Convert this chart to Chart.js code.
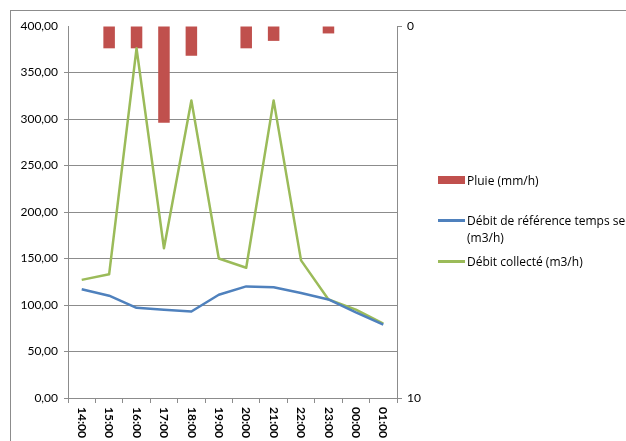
<!DOCTYPE html>
<html>
<head>
<meta charset="utf-8">
<script src="https://cdn.jsdelivr.net/npm/chart.js@4"></script>
<style>
  body { margin: 0; background: #fff; overflow: hidden; }
  #wrap { position: relative; width: 626px; height: 441px; overflow: hidden; }
  #frame { position: absolute; left: 10px; top: 10px; width: 700px; height: 500px; border: 1px solid #8c8c8c; }
  #chart { position: absolute; left: 0; top: 0; }
  #legend { position: absolute; left: 438px; top: 172px; font: 12px "Open Sans", sans-serif; color: #000; }
  .item { position: absolute; left: 0; white-space: nowrap; }
  .sw { position: absolute; left: 0; width: 27px; }
  .lbl { position: absolute; left: 29px; line-height: 17px; }
</style>
</head>
<body>
<div id="wrap">
  <div id="frame"></div>
  <canvas id="chart" width="626" height="441"></canvas>
  <div id="legend">
    <div class="item" style="top:0"><div class="sw" style="top:4px;height:8px;background:#C0504D"></div><div class="lbl" style="top:0px">Pluie (mm/h)</div></div>
    <div class="item" style="top:40px"><div class="sw" style="top:7px;height:3px;background:#4F81BD"></div><div class="lbl" style="top:0px">Débit de référence temps sec<br>(m3/h)</div></div>
    <div class="item" style="top:81px"><div class="sw" style="top:7px;height:3px;background:#9BBB59"></div><div class="lbl" style="top:0px">Débit collecté (m3/h)</div></div>
  </div>
</div>
<script>
const hours = ['14:00', '15:00', '16:00', '17:00', '18:00', '19:00', '20:00', '21:00', '22:00', '23:00', '00:00', '01:00'];
const pluie = [0, 0.6, 0.6, 2.6, 0.8, 0, 0.6, 0.4, 0, 0.2, 0, 0];
const debitRef = [117, 110, 97, 95, 93, 111, 120, 119, 113, 106, 92, 79];
const debitCollecte = [127, 133, 376, 161, 320, 150, 140, 320, 148, 106, 95, 80];

const gray = '#8c8c8c';

// x labels drawn rotated clockwise, like the original
const xLabels = {
    id: 'xLabels',
    afterDraw(chart) {
        const c = chart.ctx;
        const scale = chart.scales.x;
        c.save();
        c.fillStyle = '#000';
        c.font = 'bold 12px Lato, sans-serif';
        c.textAlign = 'left';
        c.textBaseline = 'middle';
        hours.forEach((h, i) => {
            const x = scale.getPixelForTick(i);
            c.save();
            c.translate(x, scale.top + 9);
            c.rotate(Math.PI / 2);
            c.fillText(h, 0, 0);
            c.restore();
        });
        c.restore();
    }
};

const fmt = v => v.toFixed(2).replace('.', ',');

new Chart(document.getElementById('chart'), {
    data: {
        labels: hours,
        datasets: [
            {
                type: 'line',
                label: 'Débit de référence temps sec (m3/h)',
                data: debitRef,
                borderColor: '#4F81BD',
                borderWidth: 2.5,
                borderJoinStyle: 'round',
                pointRadius: 0,
                tension: 0,
                yAxisID: 'y',
                order: 1,
            },
            {
                type: 'line',
                label: 'Débit collecté (m3/h)',
                data: debitCollecte,
                borderColor: '#9BBB59',
                borderWidth: 2.5,
                borderJoinStyle: 'round',
                pointRadius: 0,
                tension: 0,
                yAxisID: 'y',
                order: 1,
            },
            {
                type: 'bar',
                label: 'Pluie (mm/h)',
                data: pluie,
                backgroundColor: '#C0504D',
                categoryPercentage: 0.42,
                barPercentage: 1,
                yAxisID: 'y1',
                order: 2,
            },
        ],
    },
    options: {
        responsive: false,
        animation: false,
        layout: { padding: { top: 26, left: 0, right: 0, bottom: 0 } },
        plugins: { legend: { display: false }, tooltip: { enabled: false } },
        scales: {
            x: {
                offset: true,
                grid: { offset: true, drawOnChartArea: false, drawTicks: true, tickLength: 5, color: gray },
                border: { color: gray },
                ticks: { display: false },
                afterFit: s => { s.height = 43; },
            },
            y: {
                position: 'left',
                min: 0,
                max: 400,
                ticks: {
                    stepSize: 50,
                    padding: 6,
                    color: '#000',
                    font: { family: 'Lato, sans-serif', size: 12 },
                    callback: v => fmt(v),
                },
                grid: {
                    color: ctx => (ctx.tick && ctx.tick.value === 400 ? 'rgba(0,0,0,0)' : gray),
                    tickLength: 4,
                },
                border: { color: gray },
                afterFit: s => { s.width = 68; },
            },
            y1: {
                position: 'right',
                reverse: true,
                min: 0,
                max: 10,
                ticks: {
                    stepSize: 10,
                    padding: 5,
                    color: '#000',
                    font: { family: 'Lato, sans-serif', size: 12 },
                },
                grid: { drawOnChartArea: false, tickLength: 5, color: gray },
                border: { color: gray },
                afterFit: s => { s.width = 229; },
            },
        },
    },
    plugins: [xLabels],
});
</script>
</body>
</html>
